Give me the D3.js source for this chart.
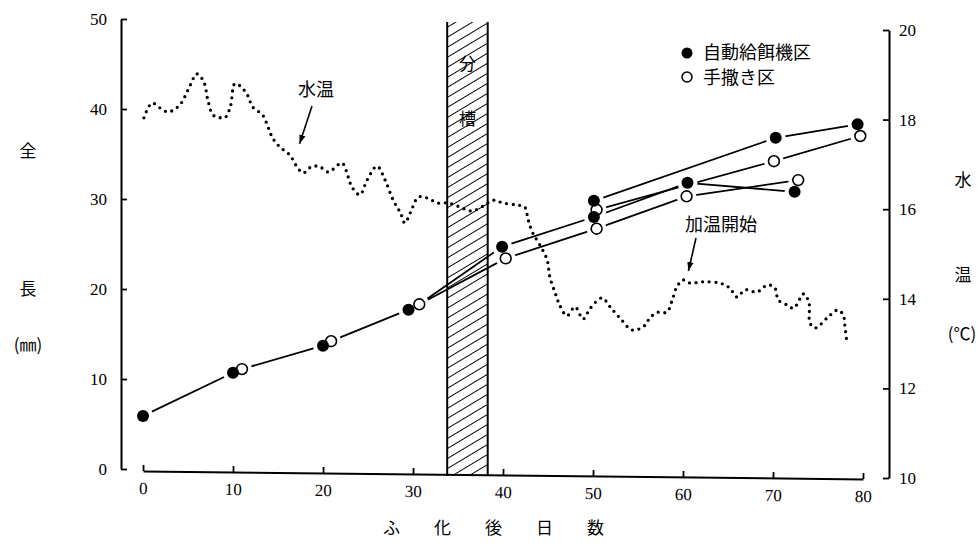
<!DOCTYPE html>
<html><head><meta charset="utf-8">
<script src="https://cdn.jsdelivr.net/npm/d3@7"></script>
<style>
body{margin:0;background:#fff}
.num{font-family:"Liberation Serif","DejaVu Serif",serif;font-size:17px;fill:#000}
.jp{font-family:"Noto Sans CJK JP",sans-serif;font-size:18px;fill:#000}
</style>
</head><body>
<svg id="c" width="980" height="556"></svg>
<script>
// ---------- data ----------
const dayTicks = [0, 10, 20, 30, 40, 50, 60, 70, 80];
const lengthTicks = [0, 10, 20, 30, 40, 50];
const tempTicks = [10, 12, 14, 16, 18, 20];

// 自動給餌機区 (filled)
const autoDays = [0, 10, 20, 29.5, 39.9, 50.1, 50.1, 60.5, 70.3, 72.4, 79.4];
const autoLen  = [5.9, 10.7, 13.7, 17.7, 24.7, 29.8, 28.0, 31.8, 36.8, 30.8, 38.3];
// 手撒き区 (open)
const handDays = [11, 20.9, 30.7, 40.3, 50.4, 50.4, 60.4, 70.1, 72.8, 79.7];
const handLen  = [11.1, 14.2, 18.3, 23.4, 28.8, 26.7, 30.3, 34.2, 32.1, 37.0];

// connecting lines (A = auto index, H = hand index)
const growthLines = [
  ["A0", "A1"],
  ["H0", "A2"],
  ["H1", "A3"],
  ["H2", "A4", "A6", "A7", "A9"],
  ["H2", "H3", "H5", "H6", "H8"],
  ["A5", "A8", "A10"],
  ["H4", "H7", "H9"]
];

// 水温 (°C)
const tempDays = [0.1,1.0,1.9,2.8,4.1,5.0,6.0,6.8,7.2,7.8,8.6,9.1,9.7,10.2,10.8,11.6,12.2,13.3,13.9,14.4,15.2,16.3,17.2,17.8,18.8,19.7,20.6,22.1,22.8,23.2,24.1,24.9,26.0,26.9,27.8,28.6,29.1,29.7,30.6,31.6,32.7,33.9,35.2,36.5,37.8,38.9,40.0,41.6,42.4,42.8,43.3,44.1,44.9,45.2,45.8,46.3,47.1,48.0,48.9,49.7,51.0,51.9,53.0,54.4,55.8,56.3,57.2,58.2,58.8,59.3,60.0,60.8,62.2,64.1,65.2,66.0,66.9,68.2,69.4,70.2,70.6,71.6,72.3,73.4,74.0,74.1,74.7,76.0,77.2,77.8,78.0,78.2];
const tempVals = [18.04,18.37,18.26,18.17,18.33,18.66,19.02,18.82,18.44,18.10,18.04,18.04,18.28,18.80,18.75,18.55,18.28,18.10,17.83,17.59,17.39,17.21,16.92,16.81,16.96,16.94,16.83,17.03,16.72,16.50,16.32,16.65,16.96,16.65,16.20,15.92,15.69,15.92,16.27,16.25,16.14,16.14,16.05,15.96,16.07,16.20,16.14,16.09,16.05,15.76,15.47,15.20,14.87,14.49,14.13,13.86,13.62,13.82,13.55,13.79,14.02,13.82,13.57,13.30,13.41,13.57,13.70,13.70,13.97,14.26,14.42,14.35,14.38,14.35,14.24,14.04,14.20,14.15,14.31,14.24,13.97,13.86,13.79,14.11,13.91,13.46,13.35,13.57,13.75,13.64,13.37,13.04];

const shedPeriod = [33.8, 38.3];          // 分槽
const tempArrowTip = [17.4, 17.46];       // 水温 arrow target (day, °C)
const heatArrowTip = [60.6, 14.62];       // 加温開始 arrow target (day, °C)

// ---------- scales ----------
const x  = d3.scaleLinear([0, 80], [143, 863]);
const yL = d3.scaleLinear([0, 50], [469, 19]);
const yR = d3.scaleLinear([10, 20], [478, 30]);

const svg = d3.select("#c");
svg.append("rect").attr("width", 980).attr("height", 556).attr("fill", "#fff");

const defs = svg.append("defs");
const pat = defs.append("pattern").attr("id", "hatch").attr("patternUnits", "userSpaceOnUse")
  .attr("width", 10).attr("height", 8.6).attr("patternTransform", "rotate(-31)");
pat.append("line").attr("x1", -1).attr("x2", 11).attr("y1", 4.3).attr("y2", 4.3)
  .attr("stroke", "#000").attr("stroke-width", 1);
defs.append("marker").attr("id", "arr").attr("viewBox", "0 0 10 10").attr("refX", 10).attr("refY", 5)
  .attr("markerWidth", 9).attr("markerHeight", 9).attr("markerUnits", "userSpaceOnUse").attr("orient", "auto")
  .append("path").attr("d", "M0,1.5 L10,5 L0,8.5 Z").attr("fill", "#000");

// ---------- hatch band ----------
const bx0 = x(shedPeriod[0]), bx1 = x(shedPeriod[1]);
svg.append("rect").attr("x", bx0).attr("y", 22).attr("width", bx1 - bx0).attr("height", 454)
  .attr("fill", "url(#hatch)");
[bx0, bx1].forEach(v => svg.append("line").attr("x1", v).attr("x2", v).attr("y1", 22).attr("y2", 476)
  .attr("stroke", "#000").attr("stroke-width", 2));
svg.append("text").attr("class", "jp").attr("x", (bx0 + bx1) / 2).attr("y", 64).attr("dy", "0.35em")
  .attr("text-anchor", "middle").style("font-size", "17px").text("分");
svg.append("text").attr("class", "jp").attr("x", (bx0 + bx1) / 2).attr("y", 119).attr("dy", "0.35em")
  .attr("text-anchor", "middle").style("font-size", "17px").text("槽");

// ---------- axes ----------
function styleAxis(g) {
  g.selectAll("path.domain").attr("stroke", "#000").attr("stroke-width", 2);
  g.selectAll(".tick line").attr("stroke", "#000").attr("stroke-width", 1.8);
  g.selectAll(".tick text").attr("class", "num").attr("font-family", null).attr("font-size", null);
  g.attr("font-family", null).attr("font-size", null);
}
svg.append("g").attr("transform", "translate(121,0)")
  .call(d3.axisLeft(yL).tickValues(lengthTicks).tickSizeInner(-6).tickSizeOuter(0).tickPadding(14))
  .call(styleAxis);
svg.append("g").attr("transform", "translate(0,471) rotate(0.63 143 0)")
  .call(d3.axisBottom(x).tickValues(dayTicks).tickSizeInner(-6).tickSizeOuter(0).tickPadding(11))
  .call(styleAxis);
svg.append("g").attr("transform", "translate(889,0)")
  .call(d3.axisRight(yR).tickValues(tempTicks).tickSizeInner(-6).tickSizeOuter(0).tickPadding(10))
  .call(styleAxis);

// ---------- temperature dotted line ----------
const tempPts = tempDays.map((d, i) => [x(d), yR(tempVals[i])]);
svg.append("path").attr("d", d3.line().curve(d3.curveCatmullRom.alpha(0.5))(tempPts))
  .attr("fill", "none").attr("stroke", "#000").attr("stroke-width", 3.3)
  .attr("stroke-linecap", "round").attr("stroke-dasharray", "0 6.6");

// ---------- growth lines ----------
const pts = {};
autoDays.forEach((d, i) => pts["A" + i] = {x: x(d), y: yL(autoLen[i]), filled: true});
handDays.forEach((d, i) => pts["H" + i] = {x: x(d), y: yL(handLen[i]), filled: false});
const lineGen = d3.line();
svg.append("g").selectAll("path").data(growthLines).join("path")
  .attr("d", l => lineGen(l.map(k => [pts[k].x, pts[k].y])))
  .attr("fill", "none").attr("stroke", "#000").attr("stroke-width", 1.8);

const allPts = Object.values(pts);
svg.append("g").selectAll("circle").data(allPts).join("circle")
  .attr("cx", p => p.x).attr("cy", p => p.y).attr("r", 10).attr("fill", "#fff");
svg.append("g").selectAll("circle").data(allPts.filter(p => !p.filled)).join("circle")
  .attr("cx", p => p.x).attr("cy", p => p.y).attr("r", 5.4)
  .attr("fill", "#fff").attr("stroke", "#000").attr("stroke-width", 1.6);
svg.append("g").selectAll("circle").data(allPts.filter(p => p.filled)).join("circle")
  .attr("cx", p => p.x).attr("cy", p => p.y).attr("r", 6).attr("fill", "#000");

// ---------- legend ----------
svg.append("circle").attr("cx", 687).attr("cy", 53).attr("r", 5.5).attr("fill", "#000");
svg.append("text").attr("class", "jp").attr("x", 703).attr("y", 53).attr("dy", "0.36em").text("自動給餌機区");
svg.append("circle").attr("cx", 687).attr("cy", 77).attr("r", 5).attr("fill", "#fff")
  .attr("stroke", "#000").attr("stroke-width", 1.5);
svg.append("text").attr("class", "jp").attr("x", 703).attr("y", 78).attr("dy", "0.36em").text("手撒き区");

// ---------- annotations ----------
svg.append("text").attr("class", "jp").attr("x", 316).attr("y", 90).attr("dy", "0.35em")
  .attr("text-anchor", "middle").text("水温");
svg.append("line").attr("x1", 312).attr("y1", 106)
  .attr("x2", x(tempArrowTip[0])).attr("y2", yR(tempArrowTip[1]))
  .attr("stroke", "#000").attr("stroke-width", 1.6).attr("marker-end", "url(#arr)");
svg.append("text").attr("class", "jp").attr("x", 721).attr("y", 225).attr("dy", "0.35em")
  .attr("text-anchor", "middle").text("加温開始");
svg.append("line").attr("x1", 696).attr("y1", 238)
  .attr("x2", x(heatArrowTip[0])).attr("y2", yR(heatArrowTip[1]))
  .attr("stroke", "#000").attr("stroke-width", 1.6).attr("marker-end", "url(#arr)");

// ---------- axis titles ----------
[["全", 28, 151], ["長", 28, 289], ["(㎜)", 28, 345], ["水", 963, 180], ["温", 963, 275], ["(℃)", 962, 334]]
  .forEach(([t, tx, ty]) => svg.append("text").attr("class", "jp").attr("x", tx).attr("y", ty)
    .attr("dy", "0.35em").attr("text-anchor", "middle").style("font-size", "17px").text(t));
svg.append("text").attr("class", "jp").attr("x", 383).attr("y", 528).attr("dy", "0.35em")
  .style("font-size", "17px").style("letter-spacing", "34px").text("ふ化後日数");
</script>
</body></html>
